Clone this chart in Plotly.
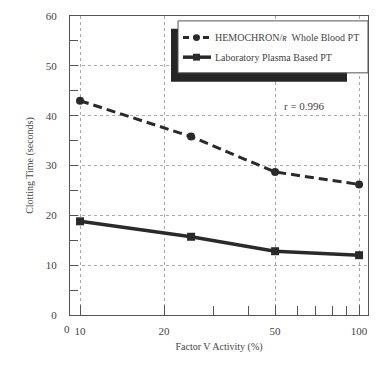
import plotly.graph_objects as go

factor_v = [10, 25, 50, 100]
hemochron_pt = [43.0, 35.8, 28.7, 26.2]
plasma_pt = [18.8, 15.7, 12.8, 12.0]
x_tick_vals = [10, 20, 50, 100]
x_tick_text = ["10", "20", "50", "100"]
x_minor_vals = [30, 40, 60, 70, 80, 90]
y_tick_vals = [0, 10, 20, 30, 40, 50, 60]

FONT = "Liberation Serif"
INK = "#2a2a2a"
TXT = "#444"
L, R, T, B = 70, 14, 10, 52
W, H = 382, 367
PW, PH = W - L - R, H - T - B

def fx(px):
    return (px - L) / PW

def fy(py):
    return (H - B - py) / PH

fig = go.Figure()
fig.add_trace(go.Scatter(
    x=factor_v, y=hemochron_pt, mode="lines+markers",
    line=dict(color=INK, width=3, dash="9px,5px"),
    marker=dict(symbol="circle", size=8, color=INK),
    showlegend=False))
fig.add_trace(go.Scatter(
    x=factor_v, y=plasma_pt, mode="lines+markers",
    line=dict(color=INK, width=3.5),
    marker=dict(symbol="square", size=8, color=INK),
    showlegend=False))

shapes = [
    dict(type="rect", xref="paper", yref="paper", x0=fx(171), x1=fx(347), y0=fy(77), y1=fy(23),
         fillcolor="#262626", line=dict(width=0), layer="above"),
    dict(type="rect", xref="paper", yref="paper", x0=fx(178), x1=fx(368), y0=fy(68), y1=fy(15),
         fillcolor="white", line=dict(color="#555", width=1), layer="above"),
    dict(type="line", xref="paper", yref="paper", x0=fx(183), x1=fx(211), y0=fy(32), y1=fy(32),
         line=dict(color=INK, width=3, dash="6px,4px"), layer="above"),
    dict(type="circle", xref="paper", yref="paper", x0=fx(193), x1=fx(200), y0=fy(35.5), y1=fy(28.5),
         fillcolor=INK, line=dict(width=0), layer="above"),
    dict(type="line", xref="paper", yref="paper", x0=fx(183), x1=fx(211), y0=fy(52), y1=fy(52),
         line=dict(color=INK, width=3.5), layer="above"),
    dict(type="rect", xref="paper", yref="paper", x0=fx(193), x1=fx(200), y0=fy(55.5), y1=fy(48.5),
         fillcolor=INK, line=dict(width=0), layer="above"),
]

annotations = [
    dict(text="HEMOCHRON/<i>ʀ</i>  Whole Blood PT", xref="paper", yref="paper", x=fx(213), y=fy(32),
         xanchor="left", yanchor="middle", showarrow=False, font=dict(family=FONT, size=10, color=TXT)),
    dict(text="Laboratory Plasma Based PT", xref="paper", yref="paper", x=fx(213), y=fy(52),
         xanchor="left", yanchor="middle", showarrow=False, font=dict(family=FONT, size=10, color=TXT)),
    dict(text="r = 0.996", xref="paper", yref="paper", x=fx(304), y=fy(102),
         xanchor="center", yanchor="middle", showarrow=False, font=dict(family=FONT, size=11, color=TXT)),
    dict(text="0", xref="paper", yref="paper", x=fx(67), y=fy(329),
         xanchor="center", yanchor="middle", showarrow=False, font=dict(family=FONT, size=11, color=TXT)),
]

fig.update_layout(
    width=W, height=H,
    margin=dict(l=L, r=R, t=T, b=B),
    paper_bgcolor="white", plot_bgcolor="white",
    font=dict(family=FONT, size=11, color=TXT),
    shapes=shapes, annotations=annotations,
    xaxis=dict(
        type="log", range=[0.964, 2.032],
        tickmode="array", tickvals=x_tick_vals, ticktext=x_tick_text,
        ticks="inside", ticklen=10, tickcolor="#555", tickwidth=1,
        ticklabelstandoff=6,
        showgrid=True, gridcolor="#aaa", griddash="dot", gridwidth=1,
        showline=True, linecolor="#555", linewidth=1.2, mirror=True,
        minor=dict(tickmode="array", tickvals=x_minor_vals, ticks="inside", ticklen=9,
                   tickcolor="#555", showgrid=False),
        tickfont=dict(family=FONT, size=11, color=TXT),
        title=dict(text="Factor V Activity (%)", font=dict(family=FONT, size=10, color=TXT), standoff=6),
        zeroline=False,
    ),
    yaxis=dict(
        range=[0, 60], tickmode="array", tickvals=y_tick_vals,
        ticks="inside", ticklen=8, tickcolor="#555", tickwidth=1,
        ticklabelstandoff=10,
        showgrid=True, gridcolor="#aaa", griddash="dot", gridwidth=1,
        showline=True, linecolor="#555", linewidth=1.2, mirror=True,
        minor=dict(dtick=5, ticks="inside", ticklen=8, tickcolor="#555", showgrid=False),
        tickfont=dict(family=FONT, size=11, color=TXT),
        title=dict(text="Clotting Time (seconds)", font=dict(family=FONT, size=10, color=TXT), standoff=10),
        zeroline=False,
    ),
)

fig.write_html("out.html")
